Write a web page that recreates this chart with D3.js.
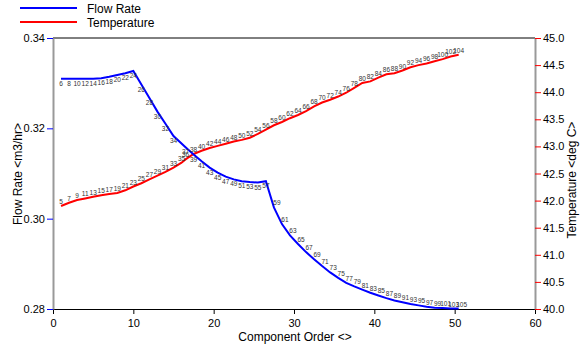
<!DOCTYPE html>
<html>
<head>
<meta charset="utf-8">
<script src="https://cdn.jsdelivr.net/npm/d3@7"></script>
<style>
  body { margin: 0; background: #fff; }
  text { font-family: "Liberation Sans", Arial, sans-serif; }
</style>
</head>
<body>
<div id="chart"></div>
<script>
// component order (x) and values
const flowX = [1, 2, 3, 4, 5, 6, 7, 8, 9, 10, 11, 12, 13, 14, 15,
  16.5, 17.5, 18.5, 19.5, 20.5, 21.5, 22.5, 23.5, 24.5, 25.5, 26.5, 27.5, 28.5, 29.5, 30.5,
  31.5, 32.5, 33.5, 34.5, 35.5, 36.5, 37.5, 38.5, 39.5, 40.5, 41.5, 42.5, 43.5, 44.5, 45.5,
  46.5, 47.5, 48.5, 49.5, 50.5];
const flowValues = [0.3310, 0.3310, 0.3310, 0.3310, 0.3310, 0.3311, 0.3314, 0.3318, 0.3322, 0.3327,
  0.3297, 0.3267, 0.3237, 0.3210, 0.3183,
  0.3158, 0.3142, 0.3127, 0.3113, 0.3102, 0.3093, 0.3087, 0.3083, 0.3081, 0.3080, 0.3083,
  0.3025, 0.2988, 0.2963, 0.2944, 0.2926, 0.2910, 0.2895, 0.2881, 0.2869, 0.2858, 0.2850,
  0.2843, 0.2836, 0.2830, 0.2824, 0.2819, 0.2815, 0.2811, 0.2808, 0.2805, 0.2803, 0.2802,
  0.2801, 0.2801];
const flowLabels = [6, 8, 10, 12, 14, 16, 18, 20, 22, 24, 26, 28, 30, 32, 34,
  37, 39, 41, 43, 45, 47, 49, 51, 53, 55, 57, 59, 61, 63, 65, 67, 69, 71, 73, 75, 77, 79,
  81, 83, 85, 87, 89, 91, 93, 95, 97, 99, 101, 103, 105];

const tempX = [1, 2, 3, 4, 5, 6, 7, 8, 9, 10, 11, 12, 13, 14, 15, 16,
  16.5, 17.5, 18.5, 19.5, 20.5, 21.5, 22.5, 23.5, 24.5, 25.5, 26.5, 27.5, 28.5, 29.5, 30.5,
  31.5, 32.5, 33.5, 34.5, 35.5, 36.5, 37.5, 38.5, 39.5, 40.5, 41.5, 42.5, 43.5, 44.5, 45.5,
  46.5, 47.5, 48.5, 49.5, 50.5];
const tempValues = [41.90, 41.96, 42.01, 42.04, 42.07, 42.10, 42.12, 42.14, 42.19, 42.26,
  42.32, 42.39, 42.46, 42.53, 42.61, 42.70,
  42.76, 42.86, 42.92, 42.97, 43.01, 43.05, 43.09, 43.12, 43.16, 43.23, 43.31, 43.39, 43.45,
  43.52, 43.58, 43.65, 43.74, 43.81, 43.86, 43.92, 43.99, 44.08, 44.17, 44.20, 44.27, 44.33,
  44.35, 44.40, 44.46, 44.50, 44.53, 44.57, 44.61, 44.66, 44.69];
const tempLabels = [5, 7, 9, 11, 13, 15, 17, 19, 21, 23, 25, 27, 29, 31, 33, 35,
  36, 38, 40, 42, 44, 46, 48, 50, 52, 54, 56, 58, 60, 62, 64, 66, 68, 70, 72, 74, 76, 78,
  80, 82, 84, 86, 88, 90, 92, 94, 96, 98, 100, 102, 104];

const xTicks = [0, 10, 20, 30, 40, 50, 60];
const flowTicks = [0.28, 0.30, 0.32, 0.34];
const tempTicks = [40.0, 40.5, 41.0, 41.5, 42.0, 42.5, 43.0, 43.5, 44.0, 44.5, 45.0];

const width = 585, height = 347;
const plot = { left: 53, right: 535, top: 38, bottom: 309 };

const svg = d3.select('#chart').append('svg')
  .attr('width', width)
  .attr('height', height);

const x = d3.scaleLinear().domain([0, 60]).range([plot.left, plot.right]);
const yFlow = d3.scaleLinear().domain([0.28, 0.34]).range([plot.bottom, plot.top]);
const yTemp = d3.scaleLinear().domain([40, 45]).range([plot.bottom, plot.top]);

// top border line
svg.append('line').attr('x1', plot.left).attr('x2', plot.right)
  .attr('y1', plot.top).attr('y2', plot.top)
  .attr('stroke', '#000').attr('stroke-width', 1);

const xAxis = svg.append('g')
  .attr('transform', `translate(0,${plot.bottom})`)
  .call(d3.axisBottom(x).tickValues(xTicks).tickSize(5).tickSizeOuter(0).tickFormat(d3.format('d')));
xAxis.select('.domain').attr('stroke', '#000');
xAxis.selectAll('.tick line').attr('stroke', '#000');
xAxis.selectAll('text').attr('font-size', 11).attr('fill', '#000').attr('y', 10);

const leftAxis = svg.append('g')
  .attr('transform', `translate(${plot.left},0)`)
  .call(d3.axisLeft(yFlow).tickValues(flowTicks).tickSize(6).tickSizeOuter(0).tickFormat(d3.format('.2f')));
leftAxis.select('.domain').attr('stroke', '#999').attr('stroke-width', 2);
leftAxis.selectAll('.tick line').attr('stroke', '#0000ff');
leftAxis.selectAll('text').attr('font-size', 11).attr('fill', '#000').attr('x', -8);

const rightAxis = svg.append('g')
  .attr('transform', `translate(${plot.right},0)`)
  .call(d3.axisRight(yTemp).tickValues(tempTicks).tickSize(6).tickSizeOuter(0).tickFormat(d3.format('.1f')));
rightAxis.select('.domain').attr('stroke', '#999').attr('stroke-width', 2);
rightAxis.selectAll('.tick line').attr('stroke', '#ff0000');
rightAxis.selectAll('text').attr('font-size', 11).attr('fill', '#000').attr('x', 8);

// axis titles
svg.append('text')
  .attr('transform', 'translate(22,174) rotate(-90)')
  .attr('text-anchor', 'middle')
  .attr('font-size', 12)
  .text('Flow Rate <m3/hr>');

svg.append('text')
  .attr('transform', 'translate(576,180) rotate(-90)')
  .attr('text-anchor', 'middle')
  .attr('font-size', 12)
  .text('Temperature <deg C>');

svg.append('text')
  .attr('x', 295).attr('y', 341)
  .attr('text-anchor', 'middle')
  .attr('font-size', 12)
  .text('Component Order <>');

// series
const flowData = flowX.map((d, i) => ({ x: d, v: flowValues[i], label: flowLabels[i] }));
const tempData = tempX.map((d, i) => ({ x: d, v: tempValues[i], label: tempLabels[i] }));

const flowLine = d3.line().x(d => x(d.x)).y(d => yFlow(d.v));
const tempLine = d3.line().x(d => x(d.x)).y(d => yTemp(d.v));

svg.append('path').datum(tempData)
  .attr('d', tempLine).attr('fill', 'none')
  .attr('stroke', '#ff0000').attr('stroke-width', 2);

svg.append('path').datum(flowData)
  .attr('d', flowLine).attr('fill', 'none')
  .attr('stroke', '#0000ff').attr('stroke-width', 2);

// point number labels: temperature above its line,
// flow rate under the line until the steep drop, then above-right of it
svg.append('g').selectAll('text').data(tempData).join('text')
  .attr('x', d => x(d.x)).attr('y', d => yTemp(d.v) - 2)
  .attr('text-anchor', 'middle').attr('font-size', 6.5).attr('fill', '#333')
  .text(d => d.label);

svg.append('g').selectAll('text').data(flowData).join('text')
  .attr('x', d => x(d.x) + (d.x > 27 ? 3 : 0))
  .attr('y', d => yFlow(d.v) + (d.x > 27 ? -2 : 7))
  .attr('text-anchor', 'middle').attr('font-size', 6.5).attr('fill', '#333')
  .text(d => d.label);

// legend
const legend = [
  { name: 'Flow Rate', color: '#0000ff', y: 8 },
  { name: 'Temperature', color: '#ff0000', y: 22 }
];
const lg = svg.append('g');
lg.selectAll('line').data(legend).join('line')
  .attr('x1', 20).attr('x2', 77)
  .attr('y1', d => d.y).attr('y2', d => d.y)
  .attr('stroke', d => d.color).attr('stroke-width', 2);
lg.selectAll('text').data(legend).join('text')
  .attr('x', 87).attr('y', d => d.y + 5)
  .attr('font-size', 12)
  .text(d => d.name);
</script>
</body>
</html>
